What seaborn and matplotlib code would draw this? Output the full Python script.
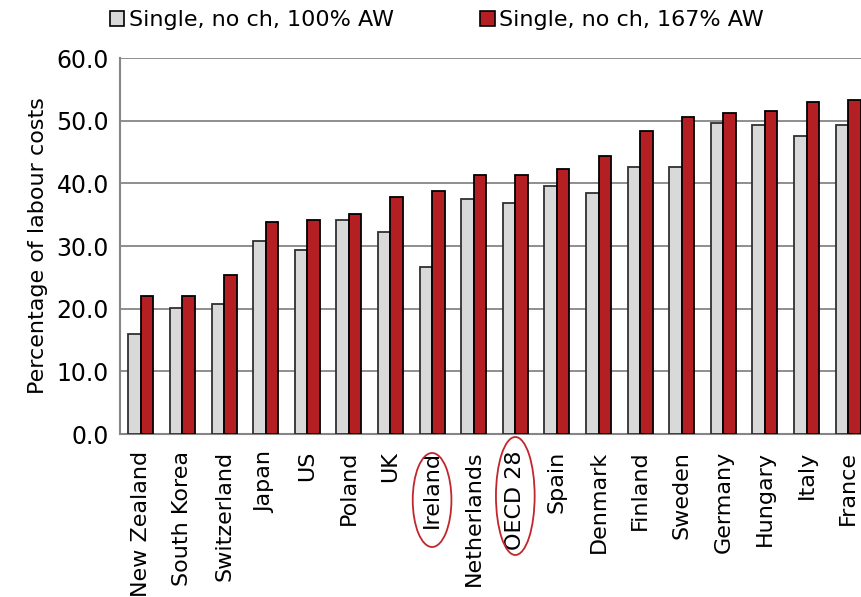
import pandas as pd
import seaborn as sns
import matplotlib.pyplot as plt
from matplotlib.patches import Ellipse
from matplotlib.transforms import blended_transform_factory

# Data
countries = ['New Zealand', 'South Korea', 'Switzerland', 'Japan', 'US', 'Poland', 'UK',
             'Ireland', 'Netherlands', 'OECD 28', 'Spain', 'Denmark', 'Finland', 'Sweden',
             'Germany', 'Hungary', 'Italy', 'France']
aw_100 = [16.0, 20.1, 20.8, 30.8, 29.3, 34.2, 32.3, 26.6, 37.5, 36.9, 39.6, 38.4,
          42.6, 42.6, 49.6, 49.3, 47.5, 49.3]
aw_167 = [22.0, 22.0, 25.4, 33.8, 34.2, 35.1, 37.8, 38.7, 41.4, 41.4, 42.3, 44.4,
          48.4, 50.6, 51.2, 51.5, 53.0, 53.3]
series = ['Single, no ch, 100% AW', 'Single, no ch, 167% AW']
highlighted = ['Ireland', 'OECD 28']

df = pd.DataFrame({
    'Country': countries * 2,
    'Value': aw_100 + aw_167,
    'Series': [series[0]] * len(countries) + [series[1]] * len(countries),
})

sns.set_style('white')
plt.rcParams['font.family'] = ['DejaVu Sans']
plt.rcParams['text.color'] = 'black'
plt.rcParams['axes.labelcolor'] = 'black'
plt.rcParams['xtick.color'] = 'black'
plt.rcParams['ytick.color'] = 'black'

grey = '#d9d9d9'
red = '#b41f24'
axis_grey = '#868686'

fig = plt.figure(figsize=(8.62, 5.97), dpi=100)
ax = fig.add_axes([120 / 862, 1 - 434 / 597, 749 / 862, 376 / 597])

sns.barplot(data=df, x='Country', y='Value', hue='Series', palette=[grey, red],
            width=0.6, saturation=1, ax=ax, zorder=3)

for cont, ec in zip(ax.containers, ['#303030', '#000000']):
    for bar in cont:
        bar.set_edgecolor(ec)
        bar.set_linewidth(1.3)

ax.set_xlim(-0.5, len(countries) - 0.5)
ax.set_ylim(0, 60)
ax.set_yticks(range(0, 61, 10))
ax.set_yticklabels([f'{v:.1f}' for v in range(0, 61, 10)], fontsize=17)
ax.yaxis.grid(True, color=axis_grey, linewidth=1.3, zorder=0)
ax.set_axisbelow(True)

ax.set_xticks(range(len(countries)))
ax.set_xticklabels(countries, rotation=90, fontsize=16)
ax.set_xticks([i - 0.5 for i in range(len(countries) + 1)], minor=True)
ax.tick_params(axis='x', which='major', length=0, pad=12)
ax.tick_params(axis='x', which='minor', length=6, width=1.3, color=axis_grey)
ax.tick_params(axis='y', length=6, width=1.3, color=axis_grey, pad=2)

for side in ['top', 'right']:
    ax.spines[side].set_visible(False)
for side in ['left', 'bottom']:
    ax.spines[side].set_color(axis_grey)
    ax.spines[side].set_linewidth(1.5)

ax.set_xlabel('')
ax.set_ylabel('Percentage of labour costs', fontsize=16, labelpad=6)

ax.legend_.remove()
handles, labels = ax.get_legend_handles_labels()
leg = fig.legend(handles, labels, loc='center left', bbox_to_anchor=(101 / 862, 1 - 20 / 597),
                 ncol=2, frameon=False, fontsize=16, handlelength=0.65, handleheight=0.65,
                 handletextpad=0.2, columnspacing=3.9, borderaxespad=0)
for h in leg.legend_handles:
    h.set_edgecolor('#000000')
    h.set_linewidth(1.2)

# Red circles round the highlighted labels
trans = blended_transform_factory(ax.transData, fig.transFigure)
for name, cy, h in zip(highlighted, [1 - 500 / 597, 1 - 496 / 597], [94 / 597, 118 / 597]):
    idx = countries.index(name)
    fig.add_artist(Ellipse((idx, cy), 0.93, h, transform=trans, fill=False,
                           edgecolor='#c0272d', linewidth=1.3))

fig.savefig('out.png', dpi=100)
